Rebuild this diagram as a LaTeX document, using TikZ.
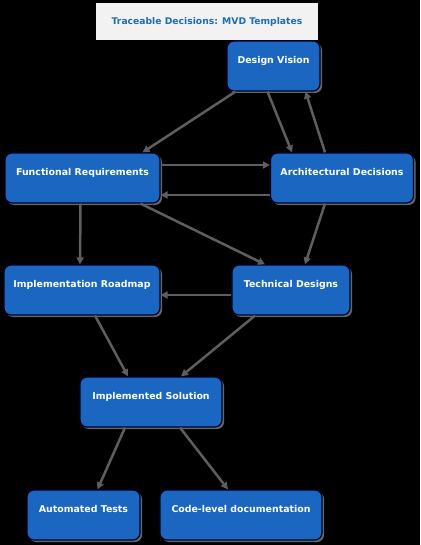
\documentclass[tikz,border=0pt]{standalone}
\usepackage{fontspec}
\setmainfont{DejaVu Sans}
\usetikzlibrary{arrows.meta,shadows}

\definecolor{mvdblue}{HTML}{1B66C0}
\definecolor{mvdedge}{HTML}{5E5E5E}
\definecolor{mvdtitle}{HTML}{1F6BB8}

\tikzset{
  stage/.style={rectangle, rounded corners=7pt, fill=mvdblue, draw=black!85!blue,
    line width=1.2pt, text=white, font=\fontsize{9.4}{11}\selectfont\bfseries,
    minimum height=50pt, text height=7pt, text depth=12pt,
    drop shadow={shadow xshift=2pt, shadow yshift=-2pt, fill=black!60, opacity=1}},
  flow/.style={-{Triangle[length=7pt,width=7pt]}, mvdedge, line width=2.5pt}
}

\begin{document}
\begin{tikzpicture}[x=1pt, y=-1pt]
        % Background and bounding box
        \fill[black] (0,0) rectangle (420,545);
        \useasboundingbox (0,0) rectangle (420,545);

        % Title
        \node[fill=black!5, minimum width=222pt, minimum height=37pt, text=mvdtitle,
          font=\fontsize{9.2}{11}\selectfont\bfseries] (title) at (207,22) {Traceable Decisions: MVD Templates};

        % Stages
        \node[stage, minimum width=93pt]  (vision) at (273.5,66)  {Design Vision};
        \node[stage, minimum width=155pt] (funreq) at (82.5,178)  {Functional Requirements};
        \node[stage, minimum width=143pt] (archdec) at (342,178)  {Architectural Decisions};
        \node[stage, minimum width=156pt] (roadmap) at (82,290)   {Implementation Roadmap};
        \node[stage, minimum width=118pt] (techdes) at (291,290)  {Technical Designs};
        \node[stage, minimum width=142pt] (impsol) at (151,402)   {Implemented Solution};
        \node[stage, minimum width=113pt] (autotest) at (83.5,515) {Automated Tests};
        \node[stage, minimum width=162pt] (codedoc) at (241,515)  {Code-level documentation};

        % Vision to requirements and decisions
        \draw[flow] ([xshift=-38pt]vision.south) -- ([xshift=60pt]funreq.north);
        \draw[flow] ([xshift=-6pt]vision.south) -- ([xshift=-50pt]archdec.north);
        \draw[flow] ([xshift=-17pt]archdec.north) -- ([xshift=32pt]vision.south);

        % Requirements and decisions
        \draw[flow] ([yshift=13pt]funreq.east) -- ([yshift=13pt]archdec.west);
        \draw[flow] ([yshift=-17pt]archdec.west) -- ([yshift=-17pt]funreq.east);

        % Down to roadmap and designs
        \draw[flow] ([xshift=-2pt]funreq.south) -- ([xshift=-2pt]roadmap.north);
        \draw[flow] ([xshift=58pt]funreq.south) -- ([xshift=-26pt]techdes.north);
        \draw[flow] ([xshift=-17pt]archdec.south) -- ([xshift=14pt]techdes.north);
        \draw[flow] ([yshift=-5pt]techdes.west) -- ([yshift=-5pt]roadmap.east);

        % Down to the solution
        \draw[flow] ([xshift=13pt]roadmap.south) -- ([xshift=-23pt]impsol.north);
        \draw[flow] ([xshift=-36pt]techdes.south) -- ([xshift=30pt]impsol.north);

        % Solution outputs
        \draw[flow] ([xshift=-26pt]impsol.south) -- ([xshift=14pt]autotest.north);
        \draw[flow] ([xshift=29pt]impsol.south) -- ([xshift=-13pt]codedoc.north);
      \end{tikzpicture}
\end{document}
